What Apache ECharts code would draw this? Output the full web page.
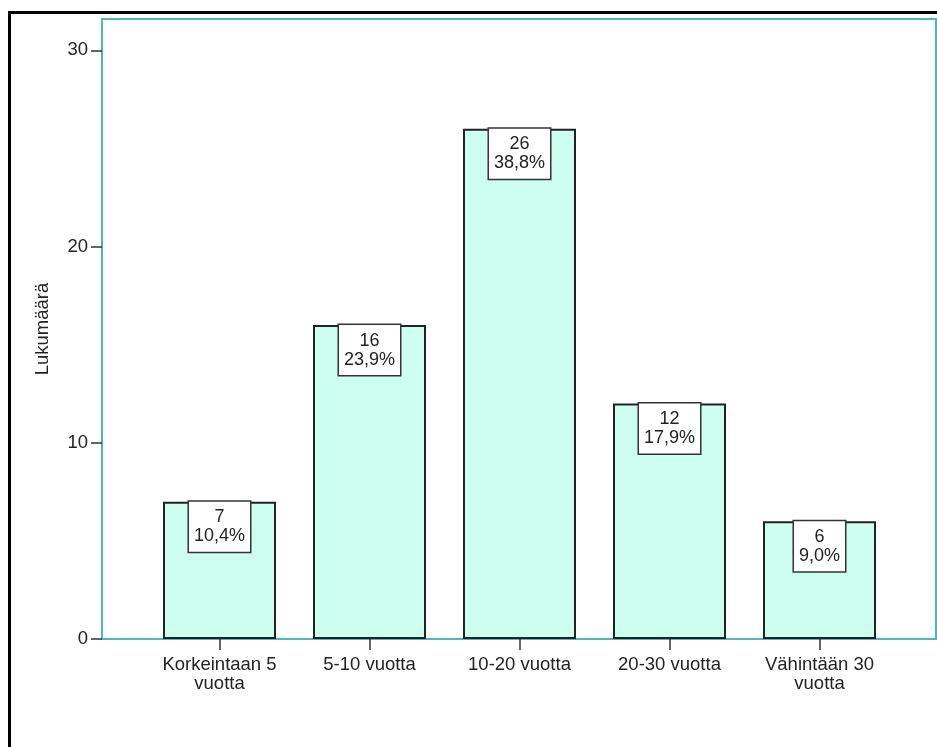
<!DOCTYPE html>
<html>
<head>
<meta charset="utf-8">
<script src="https://cdn.jsdelivr.net/npm/echarts@6/dist/echarts.min.js"></script>
<style>
html,body{margin:0;padding:0;background:#fff;}
#chart{width:937px;height:747px;}
</style>
</head>
<body>
<div id="chart"></div>
<script>
var categories = ['Korkeintaan 5\nvuotta', '5-10 vuotta', '10-20 vuotta', '20-30 vuotta', 'Vähintään 30\nvuotta'];
var counts = [7, 16, 26, 12, 6];
var percents = ['10,4%', '23,9%', '38,8%', '17,9%', '9,0%'];
var yTicks = [0, 10, 20, 30];

var FONT = 'Arial, "Liberation Sans", sans-serif';
var TEAL = '#4db8b8';
var chart = echarts.init(document.getElementById('chart'));
chart.setOption({
  animation: false,
  backgroundColor: '#fff',
  grid: { left: 144.5, right: 42.5, top: 19, bottom: 108, containLabel: false },
  xAxis: {
    type: 'category',
    data: categories,
    boundaryGap: true,
    axisLine: { show: true, lineStyle: { color: TEAL, width: 1.5 } },
    axisTick: { show: true, alignWithLabel: true, length: 11, lineStyle: { color: '#333', width: 1.5 } },
    axisLabel: { fontFamily: FONT, fontSize: 18.5, color: '#222', lineHeight: 19, margin: 16, interval: 0 }
  },
  yAxis: {
    type: 'value',
    min: 0,
    max: 31.6,
    interval: 10,
    offset: 42.5,
    name: 'Lukumäärä',
    nameLocation: 'middle',
    nameGap: 50,
    nameTextStyle: { fontFamily: FONT, fontSize: 18.5, color: '#222' },
    axisLine: { show: true, lineStyle: { color: TEAL, width: 1.5 } },
    axisTick: { show: true, length: 11, customValues: yTicks, lineStyle: { color: '#333', width: 1.5 } },
    axisLabel: {
      fontFamily: FONT, fontSize: 18.5, color: '#222', margin: 14,
      customValues: yTicks
    },
    splitLine: { show: false }
  },
  graphic: [
    { type: 'rect', z: -1, silent: true, shape: { x: 102, y: 19, width: 834, height: 620 }, style: { fill: 'none', stroke: TEAL, lineWidth: 2 } },
    { type: 'rect', z: 100, silent: true, shape: { x: 9.5, y: 12.5, width: 1200, height: 1200 }, style: { fill: 'none', stroke: '#000', lineWidth: 3 } }
  ],
  series: [{
    type: 'bar',
    data: counts,
    barWidth: 113,
    itemStyle: { color: '#ccfff0', borderColor: '#222', borderWidth: 2 },
    label: {
      show: true,
      position: 'insideTop',
      distance: 0,
      formatter: function (p) { return counts[p.dataIndex] + '\n' + percents[p.dataIndex]; },
      fontFamily: FONT,
      fontSize: 18,
      color: '#222',
      lineHeight: 19,
      align: 'center',
      backgroundColor: '#fff',
      borderColor: '#333',
      borderWidth: 1.5,
      padding: [6, 5, 6, 5]
    }
  }]
});
</script>
</body>
</html>
